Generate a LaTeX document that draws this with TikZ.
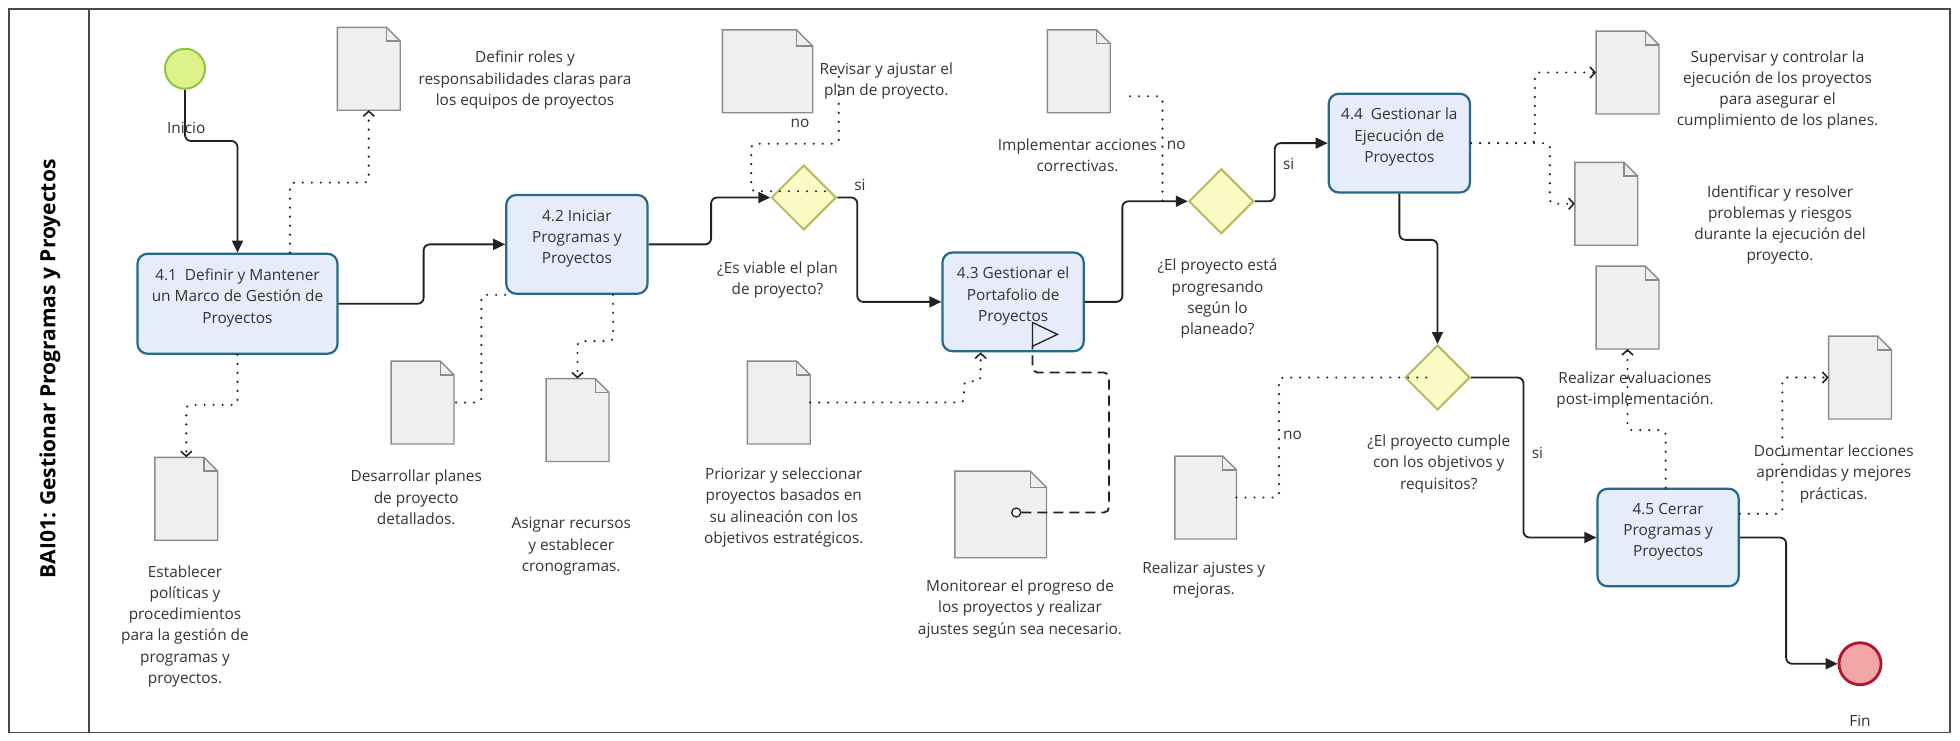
\documentclass[tikz,border=0pt]{standalone}
\usepackage{fontspec}
\setmainfont{Open Sans}
\usetikzlibrary{arrows.meta,calc,fit,shapes.geometric}

\definecolor{taskfill}{HTML}{E7ECFB}
\definecolor{taskline}{HTML}{256A8C}
\definecolor{gwfill}{HTML}{FBFBC6}
\definecolor{gwline}{HTML}{B9BC57}
\definecolor{startfill}{HTML}{DDF38A}
\definecolor{startline}{HTML}{8CC63F}
\definecolor{endfill}{HTML}{F2A6A8}
\definecolor{endline}{HTML}{B3162B}
\definecolor{docfill}{HTML}{EFEFEF}
\definecolor{docedge}{HTML}{8A8A8A}
\definecolor{ink}{HTML}{222222}
\definecolor{txt}{HTML}{333333}
\definecolor{framecol}{HTML}{4A4A4A}

\newcommand\lbl{\fontsize{15.4}{21.3}\selectfont}

% data object: name, two corners, fold size
\newcommand\docshape[4]{%
  \node[fit={#2 #3},inner sep=0pt] (#1) {};
  \draw[docstyle] (#1.south west) -- (#1.north west) -- ($(#1.north east)+(-#4,0)$)
     -- ($(#1.north east)+(0,#4)$) -- (#1.south east) -- cycle;
  \draw[docstyle,fill=none] ($(#1.north east)+(-#4,0)$) |- ($(#1.north east)+(0,#4)$);
}

\begin{document}
\begin{tikzpicture}[x=1.25pt,y=-1.25pt,
  task/.style={draw=taskline,line width=2.2pt,fill=taskfill,rounded corners=10pt,
    inner sep=0pt,align=center,text=txt,font=\lbl},
  gateway/.style={diamond,draw=gwline,line width=2pt,fill=gwfill,
    minimum width=65pt,minimum height=65pt,inner sep=0pt},
  docstyle/.style={draw=docedge,line width=1.4pt,fill=docfill,line join=miter},
  note/.style={align=center,inner sep=0pt,text=txt,font=\lbl},
  seq/.style={draw=ink,line width=1.8pt,rounded corners=6pt,
    -{Triangle[length=12pt,width=11pt]}},
  assoc/.style={draw=ink,line width=2.4pt,line cap=round,
    dash pattern=on 0pt off 9pt,rounded corners=4pt},
  chev/.style={-{Straight Barb[length=5pt,width=11pt,line width=1.6pt]}},
  msg/.style={draw=ink,line width=1.8pt,dash pattern=on 10pt off 6pt,rounded corners=5pt}
]
\useasboundingbox (0,0) rectangle (1568,592);

% pool frame and lane header
\draw[framecol,line width=1.6pt] (7,7) rectangle (1560,586);
\draw[framecol,line width=1.6pt] (71,7) -- (71,586);
\node[rotate=90,text=black,font=\fontsize{21}{24}\selectfont\bfseries] (title) at (40,295)
  {BAI01: Gestionar Programas y Proyectos};

% events
\node[circle,draw=startline,line width=2pt,fill=startfill,minimum size=40pt,inner sep=0pt] (start) at (148,55) {};
\node[note] (startlbl) at (149,102) {Inicio};
\node[circle,draw=endline,line width=2.8pt,fill=endfill,minimum size=42pt,inner sep=0pt] (end) at (1488,531) {};
\node[note] (endlbl) at (1488,577) {Fin};

% tasks
\node[task,fit={(110,203) (270,283)}] (t41) {4.1\ \ Definir y Mantener\\un Marco de Gestión de\\Proyectos};
\node[task,fit={(405,156) (518,235)}] (t42) {4.2 Iniciar\\Programas y\\Proyectos};
\node[task,fit={(754,202) (867,281)}] (t43) {4.3 Gestionar el\\Portafolio de\\Proyectos};
\node[task,fit={(1063,75) (1176,154)}] (t44) {4.4\ \ Gestionar la\\Ejecución de\\Proyectos};
\node[task,fit={(1278,391) (1391,469)}] (t45) {4.5 Cerrar\\Programas y\\Proyectos};

% gateways
\node[gateway] (g1) at (643,158) {};
\node[gateway] (g2) at (977,161) {};
\node[gateway] (g3) at (1150,302) {};
\node[note] (g1lbl) at (622,224) {¿Es viable el plan\\de proyecto?};
\node[note] (g2lbl) at (974,239) {¿El proyecto está\\progresando\\según lo\\planeado?};
\node[note] (g3lbl) at (1151,371) {¿El proyecto cumple\\con los objetivos y\\requisitos?};

% data objects
\docshape{d1}{(270,22)}{(320,88)}{11}
\docshape{d2}{(124,366)}{(174,432)}{11}
\docshape{d3}{(313,289)}{(363,355)}{11}
\docshape{d4}{(437,303)}{(487,369)}{11}
\docshape{d5}{(578,24)}{(650,90)}{13}
\docshape{d6}{(598,289)}{(648,355)}{11}
\docshape{d7}{(838,24)}{(888,90)}{11}
\docshape{d8}{(764,377)}{(837,446)}{13}
\docshape{d9}{(940,365)}{(989,431)}{11}
\docshape{d10}{(1277,25)}{(1327,91)}{11}
\docshape{d11}{(1260,130)}{(1310,196)}{11}
\docshape{d12}{(1277,213)}{(1327,279)}{11}
\docshape{d13}{(1463,269)}{(1513,335)}{11}

% data object descriptions
\node[note] (n1) at (420,64) {Definir roles y\\responsabilidades claras para\\los equipos de proyectos};
\node[note] (n2) at (148,501) {Establecer\\políticas y\\procedimientos\\para la gestión de\\programas y\\proyectos.};
\node[note] (n3) at (333,398) {Desarrollar planes\\de proyecto\\detallados.};
\node[note] (n4) at (457,437) {Asignar recursos\\y establecer\\cronogramas.};
\node[note] (n5) at (709,65) {Revisar y ajustar el\\plan de proyecto.};
\node[note] (n6) at (627,406) {Priorizar y seleccionar\\proyectos basados en\\su alineación con los\\objetivos estratégicos.};
\node[note] (n7) at (862,124) {Implementar acciones\\correctivas.};
\node[note] (n8) at (816,487) {Monitorear el progreso de\\los proyectos y realizar\\ajustes según sea necesario.};
\node[note] (n9) at (963,464) {Realizar ajustes y\\mejoras.};
\node[note] (n10) at (1422,72) {Supervisar y controlar la\\ejecución de los proyectos\\para asegurar el\\cumplimiento de los planes.};
\node[note] (n11) at (1424,180) {Identificar y resolver\\problemas y riesgos\\durante la ejecución del\\proyecto.};
\node[note] (n12) at (1308,312) {Realizar evaluaciones\\post-implementación.};
\node[note] (n13) at (1467,379) {Documentar lecciones\\aprendidas y mejores\\prácticas.};

% sequence flows
\draw[seq] (start.south) -- ++(0,41) -| (t41.north);
\draw[seq] (t41.east) -- ++(68,0) |- (t42.west);
\draw[seq] (t42.east) -- ++(50,0) |- (g1.west);
\draw[seq] (g1.east) -- ++(16,0) |- (t43.west);
\draw[seq] (t43.east) -- ++(30,0) |- (g2.west);
\draw[seq] (g2.east) -- ++(16,0) |- (t44.west);
\draw[seq] (t44.south) -- ++(0,37) -| (g3.north);
\draw[seq] (g3.east) -- ++(42,0) |- (t45.west);
\draw[seq] (t45.east) -- ++(37,0) |- (end.west);

% flow labels
\node[note] (no1) at (640,99) {no};
\node[note] (si1) at (688,148) {si};
\node[note] (no2) at (941,116) {no};
\node[note] (si2) at (1031,131) {si};
\node[note] (no3) at (1034,348) {no};
\node[note] (si3) at (1230,362) {si};

% associations
\coordinate (rv) at (671,55);
\coordinate (ia) at (904,77);
\coordinate (ib) at (930,161);
\draw[assoc,chev] ($(t41.north)+(42,0)$) -- ++(0,-56) -| (d1.south);
\draw[assoc,chev] (t41.south) -- ++(0,40) -| (d2.north);
\draw[assoc] (t42.south west) -- ++(-19,0) |- (d3.east);
\draw[assoc,chev] ($(t42.south)+(29,0)$) -- ++(0,37) -| (d4.north);
\draw[assoc] ($(g1)+(17,-5)$) -- ++(-59,0) -- ++(0,-38) -| (rv);
\draw[assoc] (ia) -| (ib);
\draw[assoc,chev] (d6.east) -- ++(123,0) -- ++(0,-17) -| ($(t43.south)+(-26,0)$);
\draw[assoc,chev] (t44.east) -- ++(51,0) |- (d10.west);
\draw[assoc,chev] (t44.east) -- ++(63,0) |- (d11.west);
\draw[assoc] (d9.east) -- ++(34,0) |- ($(g3)+(-8,0)$);
\draw[assoc,chev] ($(t45.north)+(-2,0)$) -- ++(0,-46) -| (d12.south);
\draw[assoc,chev] ($(t45.east)+(0,-19)$) -- ++(34,0) |- (d13.west);

% message flow from the monitoring document back to 4.3
\node[circle,draw=ink,fill=white,line width=1.3pt,minimum size=9pt,inner sep=0pt] (mc) at (813,410) {};
\coordinate (mt) at (826,277);
\draw[msg] (mc.east) -- ++(70,0) -- ++(0,-112) -| (mt);
\draw[draw=ink,line width=1.3pt,fill=taskfill] (826,258) -- (846,267.5) -- (826,277) -- cycle;
\end{tikzpicture}
\end{document}
